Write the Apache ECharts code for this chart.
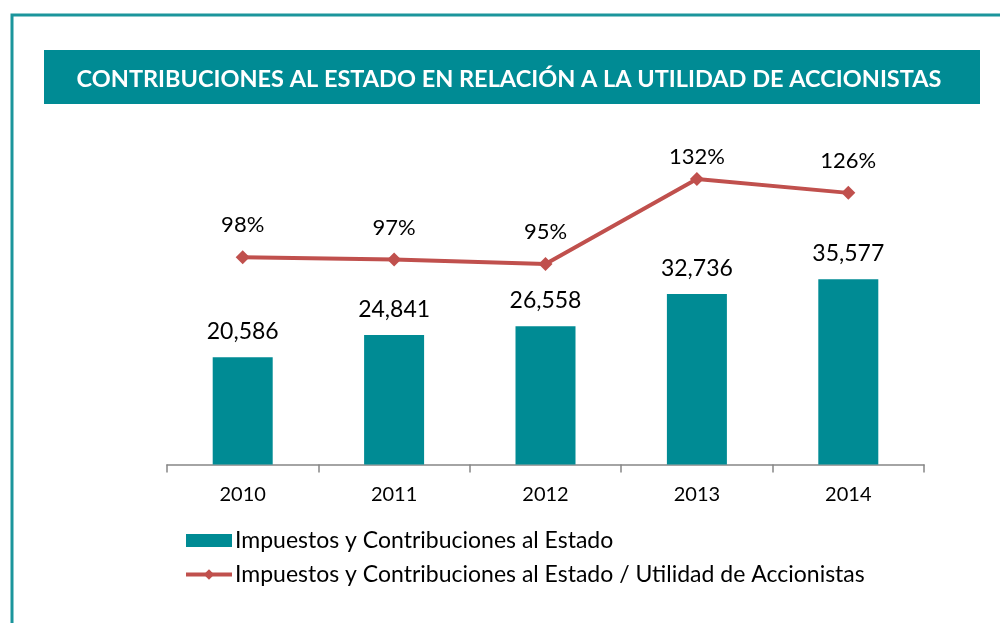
<!DOCTYPE html>
<html>
<head>
<meta charset="utf-8">
<script src="https://cdn.jsdelivr.net/npm/echarts@6/dist/echarts.min.js"></script>
<style>
  html, body { margin: 0; padding: 0; background: #fff; }
  #chart { width: 1000px; height: 623px; }
</style>
</head>
<body>
<div id="chart"></div>
<script>
const years = ['2010', '2011', '2012', '2013', '2014'];
const contributions = [20586, 24841, 26558, 32736, 35577];
const ratioPct = [98, 97, 95, 132, 126];

const barName = 'Impuestos y Contribuciones al Estado';
const lineName = 'Impuestos y Contribuciones al Estado / Utilidad de Accionistas';
const teal = '#008b94';
const red = '#c0504d';
const font = 'Lato';

const chart = echarts.init(document.getElementById('chart'));

chart.setOption({
  animation: false,
  textStyle: { fontFamily: font },
  graphic: [
    {
      type: 'rect',
      shape: { x: 12, y: 15, width: 1010, height: 640 },
      style: { fill: 'none', stroke: '#1b959c', lineWidth: 3 },
    },
    {
      type: 'rect',
      shape: { x: 44, y: 50, width: 936, height: 54 },
      style: { fill: teal },
    },
    {
      type: 'text',
      style: {
        x: 509, y: 79,
        text: 'CONTRIBUCIONES AL ESTADO EN RELACIÓN A LA UTILIDAD DE ACCIONISTAS',
        fill: '#fff',
        font: 'bold 23.5px Lato',
        align: 'center',
        verticalAlign: 'middle',
      },
    },
  ],
  legend: {
    orient: 'vertical',
    left: 179,
    top: 524,
    itemWidth: 46,
    itemHeight: 13,
    itemGap: 11,
    textStyle: { fontSize: 23, color: '#000', fontFamily: font, padding: [0, 0, 0, -2] },
    data: [
      { name: barName, icon: 'rect' },
      { name: lineName, lineStyle: { width: 4 }, itemStyle: { color: red } },
    ],
  },
  grid: { left: 167, right: 76, top: 152, bottom: 158.5 },
  xAxis: {
    type: 'category',
    data: years,
    axisLine: { lineStyle: { color: '#868686', width: 1.5 } },
    axisTick: { show: true, length: 8, lineStyle: { color: '#868686', width: 1.5 } },
    axisLabel: { fontSize: 20, color: '#000', margin: 20, fontFamily: font },
  },
  yAxis: [
    { type: 'value', min: 0, max: 60000, show: false, splitLine: { show: false } },
    { type: 'value', min: 7.7, max: 143.8, show: false, splitLine: { show: false } },
  ],
  series: [
    {
      name: barName,
      type: 'bar',
      data: contributions,
      barWidth: 60,
      itemStyle: { color: teal },
      label: {
        show: true,
        position: 'top',
        distance: 14,
        fontSize: 23,
        color: '#000',
        fontFamily: font,
        formatter: p => p.value.toLocaleString('en-US'),
      },
    },
    {
      name: lineName,
      type: 'line',
      yAxisIndex: 1,
      // the 2013 label sits closer to its point in the original
      data: ratioPct.map((v, i) => (i === 3 ? { value: v, label: { distance: 4 } } : v)),
      symbol: 'diamond',
      symbolSize: 14,
      lineStyle: { color: red, width: 4 },
      itemStyle: { color: red },
      label: {
        show: true,
        position: 'top',
        distance: 14,
        fontSize: 22,
        color: '#000',
        fontFamily: font,
        formatter: p => p.value + '%',
      },
    },
  ],
});
</script>
</body>
</html>
